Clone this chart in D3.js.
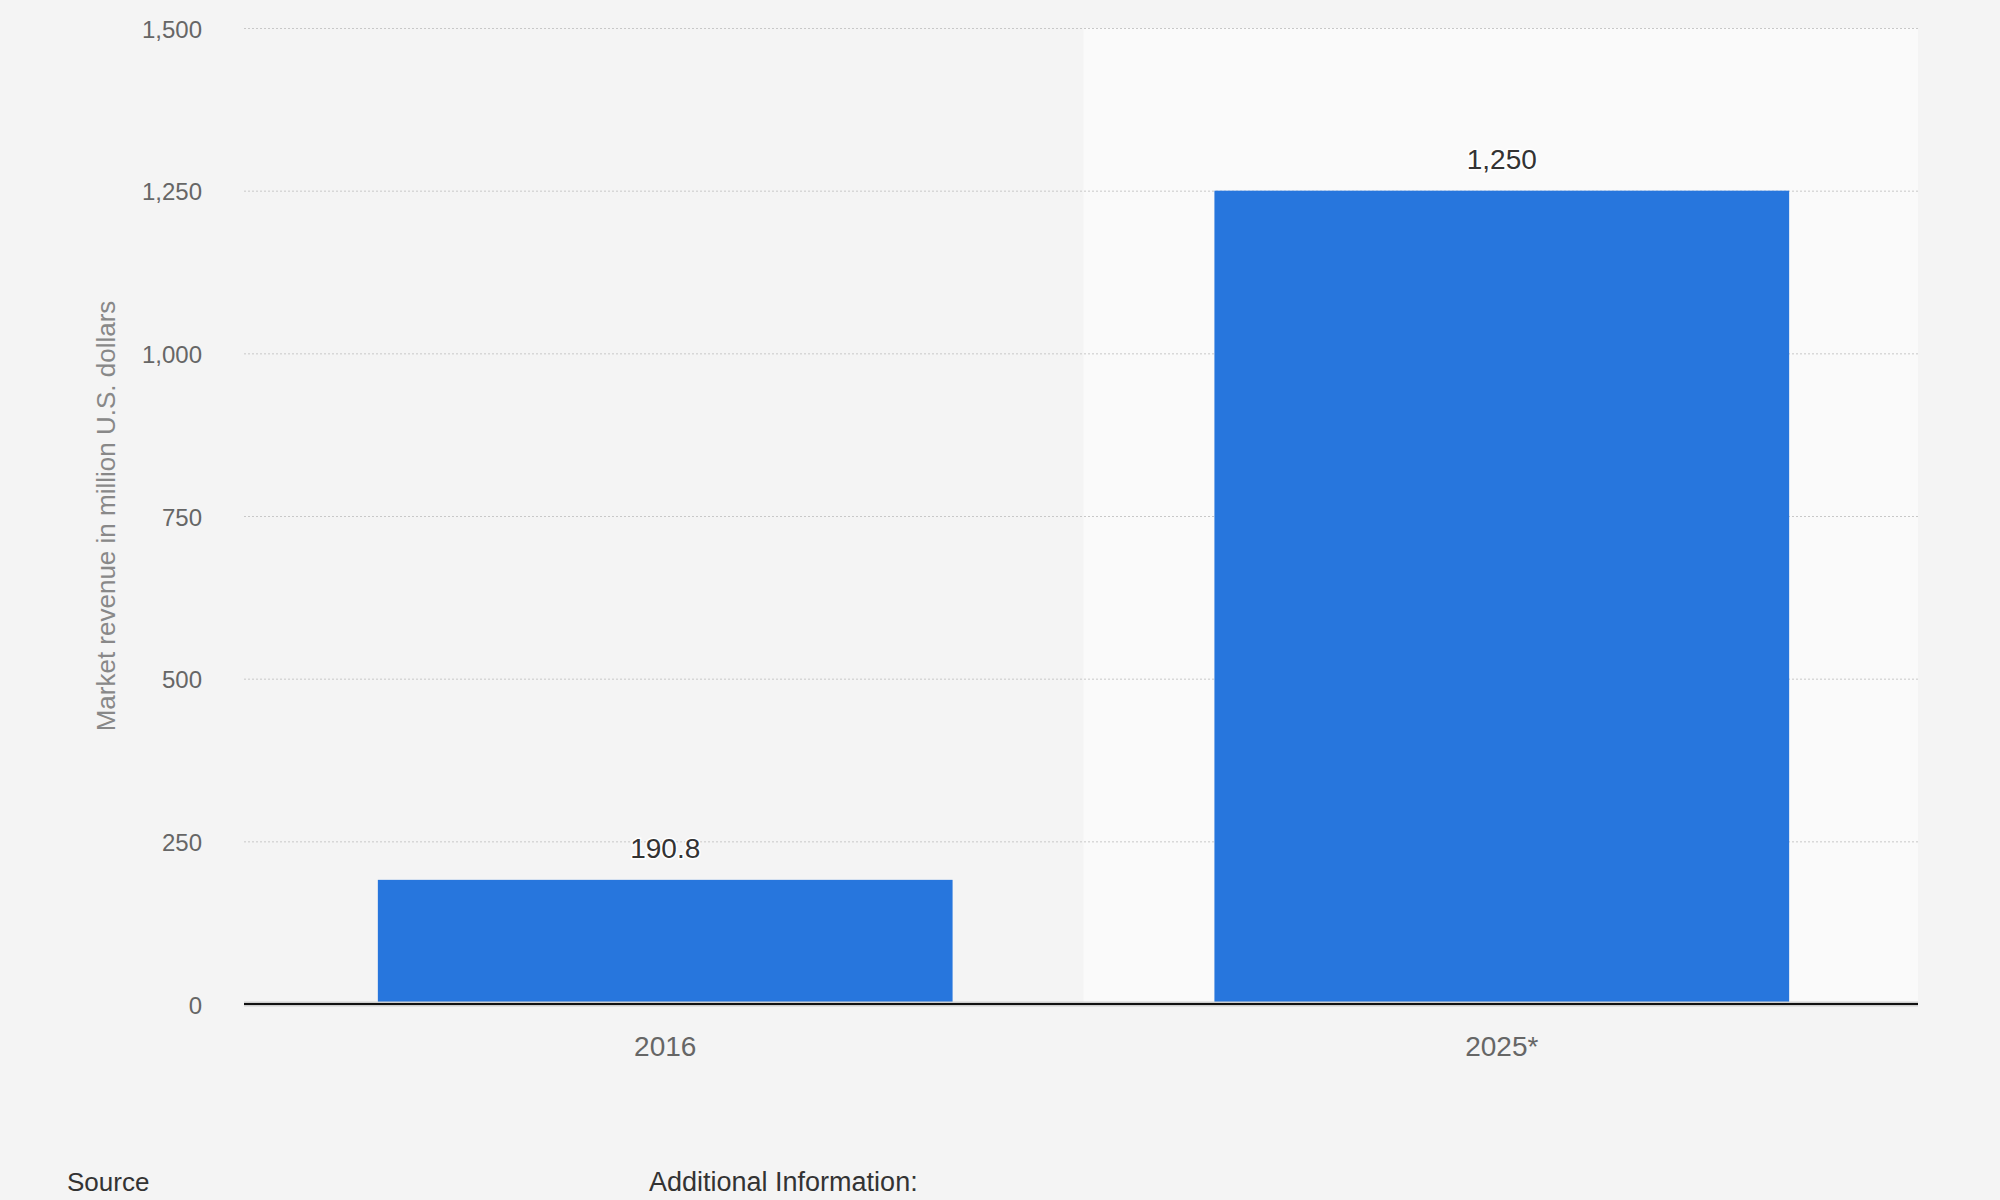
<!DOCTYPE html>
<html>
<head>
<meta charset="utf-8">
<script src="https://cdn.jsdelivr.net/npm/d3@7"></script>
<style>
    body { margin: 0; background: #f4f4f4; }
    text { font-family: "Liberation Sans", Arial, sans-serif; }
</style>
</head>
<body>
<div id="chart"></div>
<script>
var years = ["2016", "2025*"];
var revenue = [190.8, 1250];
var yTicks = [0, 250, 500, 750, 1000, 1250, 1500];
var yTitle = "Market revenue in million U.S. dollars";

var margin = {top: 28, right: 82, bottom: 196, left: 244},
    width = 2000 - margin.left - margin.right,
    height = 1200 - margin.top - margin.bottom;

var barColor = "#2776dd";
var formatNum = d3.format(",");

var data = years.map(function (d, i) {
    return {"year": d, "value": revenue[i]};
});

var svg = d3.select("#chart").append("svg")
    .attr("width", 2000)
    .attr("height", 1200)
    .style("display", "block");

svg.append("rect")
    .attr("width", 2000)
    .attr("height", 1200)
    .attr("fill", "#f4f4f4");

var g = svg.append("g")
    .attr("transform", "translate(" + margin.left + "," + margin.top + ")");

var x = d3.scaleBand()
    .domain(years)
    .range([0, width + 5])
    .paddingInner(0.313)
    .paddingOuter(0.16);

var y = d3.scaleLinear()
    .domain([0, 1500])
    .range([height, 0]);

// lighter background behind the forecast year
var fx = x("2025*") - x.step() * x.paddingInner() / 2;
g.append("rect")
    .attr("x", fx)
    .attr("y", 0)
    .attr("width", width - fx)
    .attr("height", height)
    .attr("fill", "#fafafa");

//grid lines + y labels
var yAxis = d3.axisLeft(y)
    .tickValues(yTicks)
    .tickSize(-width)
    .tickPadding(42)
    .tickFormat(formatNum);

var gy = g.append("g")
    .attr("class", "y axis")
    .call(yAxis);

gy.select(".domain").remove();
gy.selectAll(".tick line")
    .attr("stroke", "#c8c8c8")
    .attr("stroke-dasharray", "2,2")
    .attr("stroke-width", 1);
gy.selectAll(".tick text")
    .attr("fill", "#666")
    .attr("dy", "0.38em")
    .style("font-size", "24px");

g.append("text")
    .attr("transform", "rotate(-90)")
    .attr("x", -height / 2)
    .attr("y", 115 - margin.left)
    .attr("text-anchor", "middle")
    .attr("fill", "#888")
    .style("font-size", "26px")
    .text(yTitle);

// bars
g.selectAll(".bar")
    .data(data)
    .enter()
    .append("rect")
    .attr("class", "bar")
    .attr("x", function (d) { return x(d.year); })
    .attr("width", x.bandwidth())
    .attr("y", function (d) { return y(d.value); })
    .attr("height", function (d) { return height - y(d.value); })
    .attr("fill", barColor);

// value labels above bars
g.selectAll(".label")
    .data(data)
    .enter()
    .append("text")
    .attr("class", "label")
    .attr("x", function (d) { return x(d.year) + x.bandwidth() / 2; })
    .attr("y", function (d) { return y(d.value) - 22; })
    .attr("text-anchor", "middle")
    .attr("fill", "#333")
    .attr("stroke", "#fff")
    .attr("stroke-width", 3)
    .attr("paint-order", "stroke")
    .style("font-size", "28px")
    .text(function (d) { return formatNum(d.value); });

// x axis
var xAxis = d3.axisBottom(x)
    .tickSize(0)
    .tickPadding(32);

var gx = g.append("g")
    .attr("class", "x axis")
    .attr("transform", "translate(0," + height + ")")
    .call(xAxis);

gx.select(".domain")
    .attr("d", "M0,0H" + width)
    .attr("stroke", "#cfcfcf")
    .attr("stroke-width", 5);
gx.append("line")
    .attr("x1", 0)
    .attr("x2", width)
    .attr("stroke", "#111")
    .attr("stroke-width", 2);
gx.selectAll(".tick text")
    .attr("fill", "#666")
    .style("font-size", "28px");

// footer (sits right at the bottom edge like the original)
svg.append("text")
    .attr("x", 67)
    .attr("y", 1191)
    .attr("fill", "#333")
    .style("font-size", "26px")
    .text("Source");

svg.append("text")
    .attr("x", 649)
    .attr("y", 1191)
    .attr("fill", "#333")
    .style("font-size", "27px")
    .text("Additional Information:");
</script>
</body>
</html>
